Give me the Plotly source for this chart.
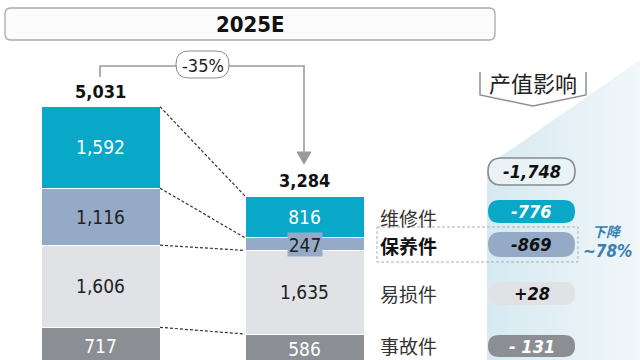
import plotly.graph_objects as go

# ---------------- data ----------------
bars = ["2024", "2025E"]
categories = ["事故件", "易损件", "保养件", "维修件"]          # bottom -> top
accident = [717, 586]
wear = [1606, 1635]
maintenance = [1116, 247]
repair = [1592, 816]
totals = [5031, 3284]
change_label = "-35%"
impact_header = "产值影响"
impact_total = "-1,748"
impact_labels = ["-776", "-869", "+28", "- 131"]          # 维修件, 保养件, 易损件, 事故件
drop_label = ["下降", "~78%"]
title = "2025E"

# ---------------- styling ----------------
C_TEAL = "#0aa8c8"
C_STEEL = "#95aac7"
C_LIGHT = "#e1e2e6"
C_DARK = "#8b8e93"
NUM_FONT = "DejaVu Sans Condensed, Liberation Sans Narrow, Liberation Sans, sans-serif"
CJK_FONT = "Noto Sans CJK SC"

BASE_PX = 364.0
SCALE = 0.05114  # px per unit


def yd(p):
    """pixel row -> data value"""
    return (BASE_PX - p) / SCALE


X_CENTERS = [100.5, 304.5]
BAR_W = 119

fig = go.Figure()

# gradient background on the right
fig.add_trace(go.Scatter(
    x=[487, 640, 640, 487, 487], y=[yd(166), yd(60), yd(370), yd(370), yd(166)],
    mode="lines", line=dict(width=0), fill="toself",
    fillgradient=dict(type="horizontal", colorscale=[[0, "#d6e9f1"], [1, "#f1f7fa"]]),
    hoverinfo="skip", showlegend=False))

series = [(accident, C_DARK, "white"), (wear, C_LIGHT, "#222"),
          (maintenance, C_STEEL, "#222"), (repair, C_TEAL, "white")]
for (vals, col, tcol), name in zip(series, categories):
    fig.add_trace(go.Bar(
        x=X_CENTERS, y=vals, width=BAR_W, name=name,
        marker=dict(color=col, line=dict(color="white", width=1)),
        text=[f"{v:,}" for v in vals],
        textposition=["inside", "none"] if name == "保养件" else "inside",
        insidetextanchor="middle", constraintext="none",
        textfont=dict(family=NUM_FONT, size=19, color=tcol),
        hoverinfo="skip"))

# 247 label with its own box
cum_mid = accident[1] + wear[1]
fig.add_annotation(x=X_CENTERS[1], y=cum_mid + maintenance[1] / 2, text=f"{maintenance[1]:,}",
                   showarrow=False, bgcolor=C_STEEL, borderpad=0, width=34, height=23,
                   font=dict(family=NUM_FONT, size=19, color="#222"))

# dashed connectors between boundaries
left_b, mid_b = [], []
for i in range(2):
    c = 0
    b = []
    for vals in [accident, wear, maintenance, repair]:
        c += vals[i]
        b.append(c)
    (left_b if i == 0 else mid_b).extend(b)
for lb, mb in zip(left_b, mid_b):
    fig.add_trace(go.Scatter(x=[X_CENTERS[0] + BAR_W / 2, X_CENTERS[1] - BAR_W / 2], y=[lb, mb],
                             mode="lines", line=dict(color="#333", width=1.2, dash="3px,2px"),
                             hoverinfo="skip", showlegend=False))

# totals
for xc, t in zip(X_CENTERS, totals):
    fig.add_annotation(x=xc, y=t, yshift=3, yanchor="bottom", text=f"<b>{t:,}</b>", showarrow=False,
                       font=dict(family=NUM_FONT, size=18, color="#111"))

shapes = []


def rrect(x0, p0, x1, p1, r):
    y0, y1 = p0, p1
    pts = [
        f"M {x0 + r},{yd(y0)}", f"L {x1 - r},{yd(y0)}", f"Q {x1},{yd(y0)} {x1},{yd(y0 + r)}",
        f"L {x1},{yd(y1 - r)}", f"Q {x1},{yd(y1)} {x1 - r},{yd(y1)}",
        f"L {x0 + r},{yd(y1)}", f"Q {x0},{yd(y1)} {x0},{yd(y1 - r)}",
        f"L {x0},{yd(y0 + r)}", f"Q {x0},{yd(y0)} {x0 + r},{yd(y0)}", "Z"]
    return " ".join(pts)


# title bar
shapes.append(dict(type="path", path=rrect(5, 8, 495, 40, 6), xref="x", yref="y",
                   line=dict(color="#a9a9a9", width=1.3), fillcolor="#fbfbfb", layer="below"))
fig.add_annotation(x=250, y=yd(24), text=f"<b>{title}</b>", showarrow=False,
                   font=dict(family=NUM_FONT, size=22, color="#111"))

# -35% bracket & arrow
shapes.append(dict(type="path", xref="x", yref="y",
                   path=f"M 100,{yd(77)} L 100,{yd(66)} L 304,{yd(66)} L 304,{yd(153)}",
                   line=dict(color="#9a9a9a", width=1.6)))
shapes.append(dict(type="path", xref="x", yref="y",
                   path=f"M 297,{yd(152)} L 311,{yd(152)} L 304,{yd(164)} Z",
                   line=dict(color="#9a9a9a", width=1), fillcolor="#9a9a9a"))
shapes.append(dict(type="path", xref="x", yref="y", path=rrect(176, 51, 229, 78, 13),
                   line=dict(color="#8a8a8a", width=1), fillcolor="white"))
fig.add_annotation(x=202.5, y=yd(65), text=change_label, showarrow=False,
                   font=dict(family=NUM_FONT, size=18, color="#222"))

# impact header
shapes.append(dict(type="path", xref="x", yref="y",
                   path=f"M 480,{yd(72)} L 480,{yd(95)} L 533,{yd(106)} L 586,{yd(95)} L 586,{yd(72)}",
                   line=dict(color="#8f8f8f", width=1.5)))
fig.add_annotation(x=533, y=yd(82), text=impact_header, showarrow=False,
                   font=dict(family=CJK_FONT, size=22, color="#222"))

# category labels
label_rows = [("维修件", 217, False), ("保养件", 245, True), ("易损件", 293, False), ("事故件", 345, False)]
for name, p, bold in label_rows:
    fig.add_annotation(x=378, y=yd(p), xanchor="left", text=(f"<b>{name}</b>" if bold else name),
                       showarrow=False, font=dict(family=CJK_FONT, size=19, color="#111" if bold else "#333"))

# dashed box around 保养件
shapes.append(dict(type="rect", xref="x", yref="y", x0=377, x1=578, y0=yd(227), y1=yd(262),
                   line=dict(color="#9fb3c2", width=1, dash="3px,2px"), fillcolor="rgba(0,0,0,0)"))

# impact pills
pill_rows = [(impact_total, 158, 185, "#e9f2f5", "#111", "#858b90", 1.6),
             (impact_labels[0], 200, 223, C_TEAL, "white", C_TEAL, 0),
             (impact_labels[1], 232, 257, C_STEEL, "#111", C_STEEL, 0),
             (impact_labels[2], 282, 305, C_LIGHT, "#111", C_LIGHT, 0),
             (impact_labels[3], 335, 357, C_DARK, "white", C_DARK, 0)]
for txt, p0, p1, fill, tcol, lcol, lw in pill_rows:
    shapes.append(dict(type="path", xref="x", yref="y", path=rrect(488, p0, 575, p1, (p1 - p0) / 2),
                       fillcolor=fill, line=dict(color=lcol, width=lw)))
    fig.add_annotation(x=531.5, y=yd((p0 + p1) / 2), text=f"<b><i>{txt}</i></b>", showarrow=False,
                       font=dict(family=NUM_FONT, size=18, color=tcol))

# drop label
fig.add_annotation(x=607, y=yd(231), text=f"<b><i>{drop_label[0]}</i></b>", showarrow=False,
                   font=dict(family=CJK_FONT, size=14, color="#3a7fb0"))
fig.add_annotation(x=607, y=yd(251), text=f"<b><i>{drop_label[1]}</i></b>", showarrow=False,
                   font=dict(family=NUM_FONT, size=17, color="#3a7fb0"))

fig.update_layout(
    width=640, height=360, margin=dict(l=0, r=0, t=0, b=0),
    paper_bgcolor="white", plot_bgcolor="white",
    barmode="stack", showlegend=False, shapes=shapes,
    xaxis=dict(range=[0, 640], visible=False, fixedrange=True),
    yaxis=dict(range=[yd(360), yd(0)], visible=False, fixedrange=True),
)

fig.write_html("out.html", config={"displayModeBar": False},
               post_script="document.body.style.margin='0';document.body.style.overflow='hidden';")
